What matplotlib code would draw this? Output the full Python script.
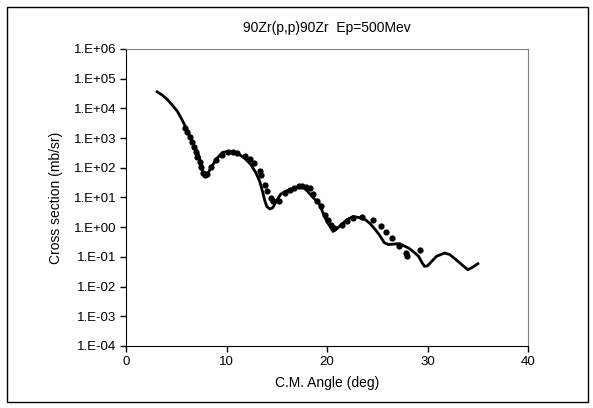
import math
import matplotlib
matplotlib.use("Agg")
import matplotlib.pyplot as plt
from matplotlib.patches import Rectangle
from matplotlib.ticker import FixedLocator, FuncFormatter

# calculated cross section (solid line)
theory_angle = [3.1, 3.6, 4.1, 4.6, 5.1, 5.5, 5.8, 6.2, 6.5, 7.0, 7.3, 7.5, 7.8, 8.0, 8.2,
                8.4, 9.0, 9.6, 10.1, 10.6, 11.2, 11.8, 12.4, 12.9, 13.3, 13.6, 13.8,
                14.0, 14.3, 14.6, 15.0, 15.4, 16.0, 16.5, 17.0, 17.5, 18.0, 18.6, 19.2,
                19.6, 20.0, 20.3, 20.6, 21.0, 21.4, 22.0, 22.6, 23.2, 23.8, 24.3, 24.8,
                25.2, 25.7, 26.1, 26.7, 27.2, 27.6, 28.1, 28.6, 29.1, 29.5, 29.7, 30.0,
                30.4, 30.9, 31.7, 32.2, 32.8, 33.4, 34.0, 34.5, 35.0]
theory_xs = [3.6e4, 2.8e4, 2.0e4, 1.3e4, 8.0e3, 4.6e3, 2.9e3, 1.5e3, 850, 400, 230, 93,
             60, 55, 70, 93, 200, 330, 350, 340, 290, 210, 130, 70, 35, 15, 8,
             5, 4.1, 4.5, 8, 13, 17, 19, 22, 24, 17, 10, 6.5,
             3, 1.5, 1.07, 0.72, 0.9, 1.2, 1.8, 2.3, 2.1, 1.8, 1.3, 0.83,
             0.55, 0.30, 0.26, 0.27, 0.28, 0.24, 0.2, 0.15, 0.105, 0.06, 0.048, 0.05,
             0.07, 0.105, 0.135, 0.12, 0.082, 0.055, 0.037, 0.045, 0.059]

# measured cross section (dots)
exp_angle = [5.9, 6.1, 6.4, 6.6, 6.8, 7.0, 7.1, 7.4, 7.5, 7.7, 7.9, 8.1, 8.5, 9.0,
             9.5, 10.1, 10.6, 11.0, 11.8, 12.3, 12.7, 13.3, 13.4, 13.8, 14.0, 14.4,
             14.6, 15.2, 15.8, 16.3, 16.7, 17.2, 17.5, 17.9, 18.3, 18.6, 19.0, 19.4,
             19.8, 20.1, 20.4, 20.7, 21.5, 22.0, 22.6, 23.5, 24.6, 25.4, 25.9, 26.5,
             27.2, 27.9, 28.0, 29.2]
exp_xs = [2100, 1600, 1100, 740, 500, 340, 230, 155, 105, 66, 55, 63, 105, 180,
          260, 340, 340, 310, 250, 190, 140, 76, 59, 27, 16, 9.6,
          7.4, 7.4, 14, 18, 21, 24, 25, 22, 21, 13, 7.4, 5.0,
          2.6, 1.8, 1.2, 0.93, 1.2, 1.6, 2.0, 2.2, 1.8, 1.1, 0.68, 0.44,
          0.24, 0.135, 0.105, 0.166]

x_ticks = [0, 10, 20, 30, 40]
y_ticks = [1e-4, 1e-3, 1e-2, 1e-1, 1e0, 1e1, 1e2, 1e3, 1e4, 1e5, 1e6]

plt.rcParams['font.family'] = ['Liberation Sans', 'DejaVu Sans']

fig = plt.figure(figsize=(5.93, 4.08), dpi=100)
ax = fig.add_axes([0.2125, 0.152, 0.678, 0.728])

ax.plot(theory_angle, theory_xs, color="black", lw=2.0, solid_joinstyle="round")
ax.plot(exp_angle, exp_xs, "o", color="black", markersize=4.5, markeredgewidth=0)

ax.set_yscale("log")
ax.set_xlim(0, 40)
ax.set_ylim(1e-4, 1e6)
ax.xaxis.set_major_locator(FixedLocator(x_ticks))
ax.yaxis.set_major_locator(FixedLocator(y_ticks))
ax.yaxis.set_minor_locator(FixedLocator([]))
ax.yaxis.set_major_formatter(FuncFormatter(lambda v, p: "1.E%+03d" % round(math.log10(v))))

ax.tick_params(axis="both", direction="out", length=4, width=1, labelsize=9.5, colors="black", pad=3)
for s in ["top", "right"]:
    ax.spines[s].set_color("#808080")
for s in ["left", "bottom"]:
    ax.spines[s].set_color("black")

ax.set_title("90Zr(p,p)90Zr  Ep=500Mev", fontsize=10, pad=12)
ax.set_xlabel("C.M. Angle (deg)", fontsize=10, labelpad=6)
ax.set_ylabel("Cross section (mb/sr)", fontsize=10, labelpad=8)

# outer chart border
fig.patches.append(Rectangle((7 / 593, 6 / 408), 581 / 593, 395 / 408,
                             transform=fig.transFigure, fill=False,
                             edgecolor="black", lw=1))

fig.savefig("out.png", dpi=100)
